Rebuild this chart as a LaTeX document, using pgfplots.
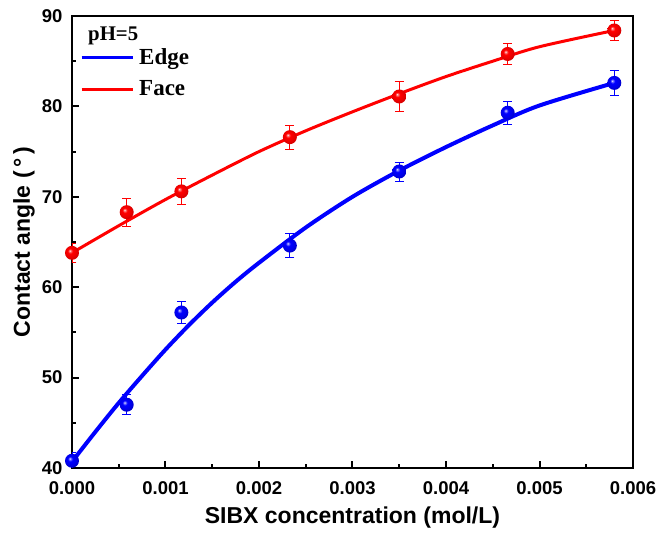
\documentclass[border=0pt]{standalone}
\usepackage{fontspec}
\setmainfont{Liberation Sans}
\newfontfamily\timesfont{Liberation Serif}
\usepackage{pgfplots}
\pgfplotsset{compat=1.18}
\definecolor{myblue}{RGB}{0,0,255}
\definecolor{myred}{RGB}{255,0,0}
\pgfdeclareradialshading{blueball}{\pgfqpoint{-8bp}{8bp}}{color(0bp)=(white); color(3bp)=(white!50!myblue); color(9bp)=(myblue); color(20bp)=(myblue!92!black); color(25bp)=(myblue!82!black); color(50bp)=(myblue!82!black)}
\pgfdeclareradialshading{redball}{\pgfqpoint{-8bp}{8bp}}{color(0bp)=(white); color(3bp)=(white!50!myred); color(9bp)=(myred); color(20bp)=(myred!92!black); color(25bp)=(myred!85!black); color(50bp)=(myred!85!black)}
\pgfdeclareplotmark{blueball}{\pgfpathcircle{\pgfpointorigin}{\pgfplotmarksize}\pgfshadepath{blueball}{0}\pgfusepath{}}
\pgfdeclareplotmark{redball}{\pgfpathcircle{\pgfpointorigin}{\pgfplotmarksize}\pgfshadepath{redball}{0}\pgfusepath{}}
\begin{document}
\begin{tikzpicture}
\path[use as bounding box] (-72pt,-70pt) rectangle (585pt,468pt);
\begin{axis}[
  scale only axis,
  width=561pt, height=452pt,
  xmin=0, xmax=0.006, ymin=40, ymax=90,
  xtick={0,0.001,0.002,0.003,0.004,0.005,0.006},
  ytick={40,50,60,70,80,90},
  minor x tick num=1, minor y tick num=1,
  xtick pos=left, ytick pos=left,
  tick align=inside,
  major tick length=7pt, minor tick length=4pt,
  every tick/.style={black, line width=2pt},
  axis line style={line width=2.8pt},
  scaled x ticks=false,
  /pgf/number format/assume math mode=true,
  xticklabel style={/pgf/number format/fixed, /pgf/number format/fixed zerofill, /pgf/number format/precision=3, yshift=-10pt},
  tick label style={font=\fontsize{18.5}{20}\selectfont\bfseries},
  yticklabel style={xshift=-6pt},
  xlabel={SIBX concentration (mol/L)},
  ylabel={Contact angle (\,°\,)},
  every axis x label/.append style={at={(axis description cs:0.5,-0.1106)}, anchor=center, font=\fontsize{23}{25}\selectfont\bfseries},
  every axis y label/.append style={at={(axis description cs:-0.0856,0.5)}, anchor=center, font=\fontsize{23}{25}\selectfont\bfseries},
  legend style={at={(axis description cs:0.0143,0.8742)}, anchor=west, draw=none, fill=none,
    font=\timesfont\fontsize{23}{23}\selectfont\bfseries, inner sep=0pt,
    row sep=11pt, column sep=3pt, cells={anchor=west}},
  legend image code/.code={\draw[#1, line width=3pt] (0pt,0pt) -- (51pt,0pt);},
]
% fitted curves
\addplot[myblue, line width=4pt, smooth] coordinates {
(0,40.7) (0.00025,44.0) (0.0005,47.2) (0.00075,50.2) (0.001,53.1) (0.00125,55.8)
(0.0015,58.3) (0.00175,60.6) (0.002,62.7) (0.0025,66.6) (0.003,70.0) (0.0035,72.9)
(0.004,75.5) (0.0045,77.9) (0.005,80.1) (0.0058,82.6)};
\addlegendentry{Edge}
\addplot[myred, line width=3pt, smooth] coordinates {
(0,63.8) (0.0005,66.8) (0.001,69.7) (0.0015,72.4) (0.002,75.0) (0.0025,77.3)
(0.003,79.4) (0.0035,81.4) (0.004,83.3) (0.0045,85.0) (0.005,86.6) (0.0058,88.4)};
\addlegendentry{Face}
% data with error bars
\addplot[draw=myblue, color=myblue, only marks, mark=blueball, mark size=7pt,
  error bars/.cd, y dir=both, y explicit,
  error bar style={draw=myblue, line width=0.9pt},
  error mark options={draw=myblue, rotate=90, mark size=4.5pt, line width=0.9pt}] coordinates {
(0,40.8) +- (0,0.9)
(0.000585,47.0) +- (0,1.1)
(0.00117,57.2) +- (0,1.2)
(0.00233,64.6) +- (0,1.35)
(0.0035,72.8) +- (0,1.05)
(0.00466,79.3) +- (0,1.3)
(0.0058,82.6) +- (0,1.4)};
\addplot[draw=myred, color=myred, only marks, mark=redball, mark size=7pt,
  error bars/.cd, y dir=both, y explicit,
  error bar style={draw=myred, line width=0.9pt},
  error mark options={draw=myred, rotate=90, mark size=4.5pt, line width=0.9pt}] coordinates {
(0,63.8) +- (0,1.05)
(0.000585,68.3) +- (0,1.55)
(0.00117,70.6) +- (0,1.4)
(0.00233,76.6) +- (0,1.33)
(0.0035,81.1) +- (0,1.7)
(0.00466,85.8) +- (0,1.15)
(0.0058,88.4) +- (0,1.1)};
\node[anchor=base west, font=\timesfont\fontsize{20.8}{21}\selectfont\bfseries, inner sep=0pt]
  at (axis description cs:0.0285,0.9469) {pH=5};
\end{axis}
\end{tikzpicture}
\end{document}
